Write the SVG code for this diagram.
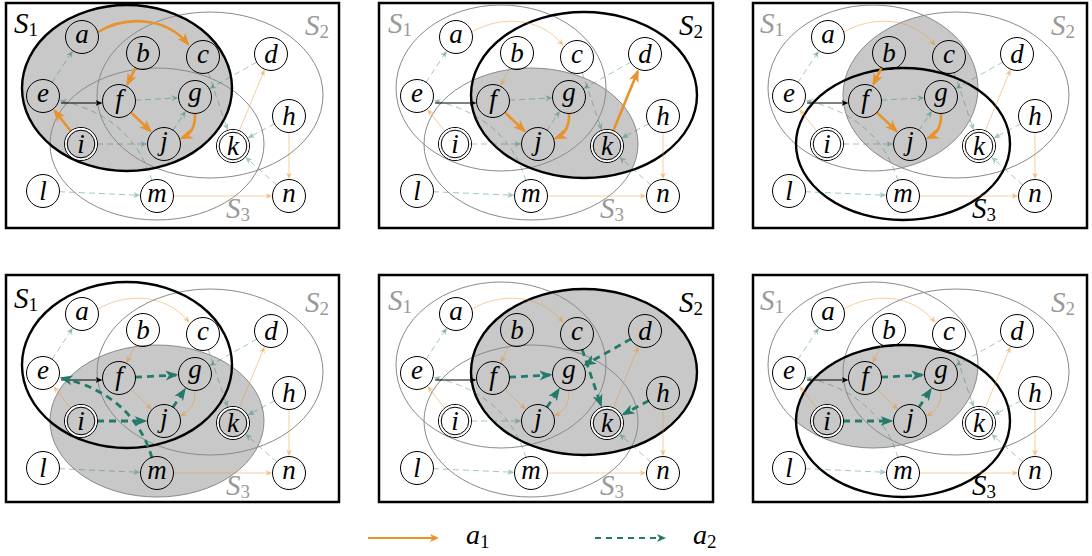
<svg xmlns="http://www.w3.org/2000/svg" width="1092" height="556" viewBox="0 0 1092 556">
<style>
.frame{fill:none;stroke:#000;stroke-width:2.5}
.sf{fill:none;stroke:#8a8a8a;stroke-width:1}
.sb{fill:none;stroke:#000;stroke-width:2.4}
.fill{fill:#c8c8c8;stroke:none}
.lab{font-family:"Liberation Serif",serif;font-style:italic;font-size:29px;fill:#000}
.lab.g{fill:#999}
.sub{font-style:normal;font-size:19px}
.node circle{fill:none;stroke:#000;stroke-width:1}
.node circle.gap{stroke:#fff;stroke-width:1.6}
.node text{font-family:"Liberation Serif",serif;font-style:italic;font-size:27px;text-anchor:middle;fill:#000}
.ob{fill:none;stroke:#E8922C;stroke-width:2.6;marker-end:url(#mob)}
.of{fill:none;stroke:#E8922C;stroke-opacity:.45;stroke-width:1;marker-end:url(#mof)}
.tb{fill:none;stroke:#237A6B;stroke-width:2.8;stroke-dasharray:7 5;marker-end:url(#mtb)}
.tf{fill:none;stroke:#237A6B;stroke-opacity:.42;stroke-width:1;stroke-dasharray:6 4;marker-end:url(#mtf)}
.bk{fill:none;stroke:#000;stroke-width:1;marker-end:url(#mbk)}
.leg{font-family:"Liberation Serif",serif;font-style:italic;font-size:28px;fill:#000}
</style>
<defs>
<marker id="mob" markerUnits="userSpaceOnUse" orient="auto" markerWidth="13" markerHeight="10" refX="10.5" refY="5"><path d="M0,0 L13,5 L0,10 L3.5,5 z" fill="#E8922C"/></marker>
<marker id="mof" markerUnits="userSpaceOnUse" orient="auto" markerWidth="7" markerHeight="6" refX="4.5" refY="3"><path d="M0,0 L7,3 L0,6 L1.8,3 z" fill="#E8922C" fill-opacity=".45"/></marker>
<marker id="mtb" markerUnits="userSpaceOnUse" orient="auto" markerWidth="13" markerHeight="10" refX="10.5" refY="5"><path d="M0,0 L13,5 L0,10 L3.5,5 z" fill="#237A6B"/></marker>
<marker id="mtf" markerUnits="userSpaceOnUse" orient="auto" markerWidth="7" markerHeight="6" refX="4.5" refY="3"><path d="M0,0 L7,3 L0,6 L1.8,3 z" fill="#237A6B" fill-opacity=".42"/></marker>
<marker id="mbk" markerUnits="userSpaceOnUse" orient="auto" markerWidth="7" markerHeight="6" refX="4.5" refY="3"><path d="M0,0 L7,3 L0,6 L1.8,3 z" fill="#000"/></marker>
<marker id="mlo" markerUnits="userSpaceOnUse" orient="auto" markerWidth="9" markerHeight="8" refX="6" refY="4"><path d="M0,0 L9,4 L0,8 L2.4,4 z" fill="#E8922C"/></marker>
<marker id="mlt" markerUnits="userSpaceOnUse" orient="auto" markerWidth="9" markerHeight="8" refX="6" refY="4"><path d="M0,0 L9,4 L0,8 L2.4,4 z" fill="#237A6B"/></marker>
<clipPath id="cS1"><ellipse cx="127" cy="88" rx="105" ry="83"/></clipPath>
<clipPath id="cS2"><ellipse cx="210" cy="95" rx="113" ry="83"/></clipPath>
<clipPath id="cS3"><ellipse cx="157" cy="144" rx="107" ry="76"/></clipPath>
</defs>
<rect width="1092" height="556" fill="#fff"/>
<g id="frames">
<rect class="frame" x="6" y="3" width="333" height="225"/>
<rect class="frame" x="379" y="3" width="334" height="225"/>
<rect class="frame" x="753" y="3" width="334" height="225"/>
<rect class="frame" x="6" y="275" width="333" height="227"/>
<rect class="frame" x="379" y="275" width="334" height="227"/>
<rect class="frame" x="753" y="275" width="334" height="227"/>
</g>

<!-- Panel 1 -->
<g id="panel-1" transform="translate(0,0)">
<ellipse class="fill" cx="127" cy="88" rx="105" ry="83"/>
<ellipse class="sf" cx="210" cy="95" rx="113" ry="83"/>
<ellipse class="sf" cx="157" cy="144" rx="107" ry="76"/>
<ellipse class="sb" cx="127" cy="88" rx="105" ry="83"/>
<text class="lab" x="14" y="33">S<tspan class="sub" dy="3">1</tspan></text>
<text class="lab g" x="305" y="35">S<tspan class="sub" dy="3">2</tspan></text>
<text class="lab g" x="226" y="218">S<tspan class="sub" dy="3">3</tspan></text>
<g id="p1-connectors">
<path class="of" d="M239.1,131.2 L263.7,71.6"/>
<path class="of" d="M289,132 L289,177"/>
<path class="of" d="M173,196 L270,196"/>
<path class="tf" d="M51.8,82.7 L71.5,52.8"/>
<path class="tf" d="M135,100.2 L176,98"/>
<path class="tf" d="M172.8,130.6 L184.5,112.9"/>
<path class="tf" d="M97,144 L145,144"/>
<path class="tf" d="M152,181 C140,140 110,112 62,101"/>
<path class="tf" d="M59,191.7 L138,195.2"/>
<path class="tf" d="M257.1,61.9 L211.5,87.6"/>
<path class="tf" d="M208.1,72.2 L226.9,128"/>
<path class="tf" d="M274.9,123.6 L249.8,137"/>
<path class="tf" d="M277.1,185.3 L247.2,158.7"/>
<path class="bk" d="M61,103 L100,103"/>
<path class="ob" d="M98,32 C125,16 165,16 188,44"/>
<path class="ob" d="M135.8,67.3 L127.5,84"/>
<path class="ob" d="M130.6,112.1 L150.3,130.9"/>
<path class="ob" d="M195,113 Q196,132 182,138"/>
<path class="ob" d="M71.1,131.5 L54.8,110.9"/>
</g>
<g id="p1-a" class="node"><circle cx="82" cy="37" r="16.5"/><text x="82" y="43">a</text></g>
<g id="p1-b" class="node"><circle cx="143" cy="53" r="16.5"/><text x="143" y="62">b</text></g>
<g id="p1-c" class="node"><circle cx="203" cy="57" r="16.5"/><text x="203" y="63">c</text></g>
<g id="p1-d" class="node"><circle cx="271" cy="54" r="16.5"/><text x="271" y="63">d</text></g>
<g id="p1-e" class="node"><circle cx="43" cy="96" r="16.5"/><text x="43" y="102">e</text></g>
<g id="p1-f" class="node"><circle cx="119" cy="101" r="16.5"/><text x="119" y="107.5">f</text></g>
<g id="p1-g" class="node"><circle cx="195" cy="97" r="16.5"/><text x="195" y="100.5">g</text></g>
<g id="p1-h" class="node"><circle cx="289" cy="116" r="16.5"/><text x="289" y="125">h</text></g>
<g id="p1-i" class="node"><circle cx="81" cy="144" r="16.5"/><circle class="gap" cx="81" cy="144" r="15.1"/><circle cx="81" cy="144" r="13.8"/><text x="81" y="152.5">i</text></g>
<g id="p1-j" class="node"><circle cx="164" cy="144" r="16.5"/><text x="164" y="149.5">j</text></g>
<g id="p1-k" class="node"><circle cx="233" cy="146" r="16.5"/><circle class="gap" cx="233" cy="146" r="15.1"/><circle cx="233" cy="146" r="13.8"/><text x="233" y="155">k</text></g>
<g id="p1-l" class="node"><circle cx="43" cy="191" r="16.5"/><text x="43" y="200">l</text></g>
<g id="p1-m" class="node"><circle cx="157" cy="196" r="16.5"/><text x="157" y="202">m</text></g>
<g id="p1-n" class="node"><circle cx="289" cy="196" r="16.5"/><text x="289" y="202">n</text></g>
</g>

<!-- Panel 2 -->
<g id="panel-2" transform="translate(374,0)">
<ellipse class="fill" cx="210" cy="95" rx="113" ry="83" clip-path="url(#cS3)"/>
<ellipse class="sf" cx="127" cy="88" rx="105" ry="83"/>
<ellipse class="sf" cx="157" cy="144" rx="107" ry="76"/>
<ellipse class="sb" cx="210" cy="95" rx="113" ry="83"/>
<text class="lab g" x="14" y="33">S<tspan class="sub" dy="3">1</tspan></text>
<text class="lab" x="305" y="35">S<tspan class="sub" dy="3">2</tspan></text>
<text class="lab g" x="226" y="218">S<tspan class="sub" dy="3">3</tspan></text>
<g id="p2-connectors">
<path class="of" d="M98,32 C125,16 165,16 188,44"/>
<path class="of" d="M135.8,67.3 L127.5,84"/>
<path class="of" d="M71.1,131.5 L54.8,110.9"/>
<path class="of" d="M289,132 L289,177"/>
<path class="of" d="M173,196 L270,196"/>
<path class="tf" d="M51.8,82.7 L71.5,52.8"/>
<path class="tf" d="M135,100.2 L176,98"/>
<path class="tf" d="M172.8,130.6 L184.5,112.9"/>
<path class="tf" d="M97,144 L145,144"/>
<path class="tf" d="M152,181 C140,140 110,112 62,101"/>
<path class="tf" d="M59,191.7 L138,195.2"/>
<path class="tf" d="M257.1,61.9 L211.5,87.6"/>
<path class="tf" d="M208.1,72.2 L226.9,128"/>
<path class="tf" d="M274.9,123.6 L249.8,137"/>
<path class="tf" d="M277.1,185.3 L247.2,158.7"/>
<path class="bk" d="M61,103 L100,103"/>
<path class="ob" d="M130.6,112.1 L150.3,130.9"/>
<path class="ob" d="M195,113 Q196,132 182,138"/>
<path class="ob" d="M239.1,131.2 L263.7,71.6"/>
</g>
<g id="p2-a" class="node"><circle cx="82" cy="37" r="16.5"/><text x="82" y="43">a</text></g>
<g id="p2-b" class="node"><circle cx="143" cy="53" r="16.5"/><text x="143" y="62">b</text></g>
<g id="p2-c" class="node"><circle cx="203" cy="57" r="16.5"/><text x="203" y="63">c</text></g>
<g id="p2-d" class="node"><circle cx="271" cy="54" r="16.5"/><text x="271" y="63">d</text></g>
<g id="p2-e" class="node"><circle cx="43" cy="96" r="16.5"/><text x="43" y="102">e</text></g>
<g id="p2-f" class="node"><circle cx="119" cy="101" r="16.5"/><text x="119" y="107.5">f</text></g>
<g id="p2-g" class="node"><circle cx="195" cy="97" r="16.5"/><text x="195" y="100.5">g</text></g>
<g id="p2-h" class="node"><circle cx="289" cy="116" r="16.5"/><text x="289" y="125">h</text></g>
<g id="p2-i" class="node"><circle cx="81" cy="144" r="16.5"/><circle class="gap" cx="81" cy="144" r="15.1"/><circle cx="81" cy="144" r="13.8"/><text x="81" y="152.5">i</text></g>
<g id="p2-j" class="node"><circle cx="164" cy="144" r="16.5"/><text x="164" y="149.5">j</text></g>
<g id="p2-k" class="node"><circle cx="233" cy="146" r="16.5"/><circle class="gap" cx="233" cy="146" r="15.1"/><circle cx="233" cy="146" r="13.8"/><text x="233" y="155">k</text></g>
<g id="p2-l" class="node"><circle cx="43" cy="191" r="16.5"/><text x="43" y="200">l</text></g>
<g id="p2-m" class="node"><circle cx="157" cy="196" r="16.5"/><text x="157" y="202">m</text></g>
<g id="p2-n" class="node"><circle cx="289" cy="196" r="16.5"/><text x="289" y="202">n</text></g>
</g>

<!-- Panel 3 -->
<g id="panel-3" transform="translate(746,0)">
<ellipse class="fill" cx="127" cy="88" rx="105" ry="83" clip-path="url(#cS2)"/>
<ellipse class="sf" cx="127" cy="88" rx="105" ry="83"/>
<ellipse class="sf" cx="210" cy="95" rx="113" ry="83"/>
<ellipse class="sb" cx="157" cy="144" rx="107" ry="76"/>
<text class="lab g" x="14" y="33">S<tspan class="sub" dy="3">1</tspan></text>
<text class="lab g" x="305" y="35">S<tspan class="sub" dy="3">2</tspan></text>
<text class="lab" x="226" y="218">S<tspan class="sub" dy="3">3</tspan></text>
<g id="p3-connectors">
<path class="of" d="M98,32 C125,16 165,16 188,44"/>
<path class="of" d="M71.1,131.5 L54.8,110.9"/>
<path class="of" d="M239.1,131.2 L263.7,71.6"/>
<path class="of" d="M289,132 L289,177"/>
<path class="of" d="M173,196 L270,196"/>
<path class="tf" d="M51.8,82.7 L71.5,52.8"/>
<path class="tf" d="M135,100.2 L176,98"/>
<path class="tf" d="M172.8,130.6 L184.5,112.9"/>
<path class="tf" d="M97,144 L145,144"/>
<path class="tf" d="M152,181 C140,140 110,112 62,101"/>
<path class="tf" d="M59,191.7 L138,195.2"/>
<path class="tf" d="M257.1,61.9 L211.5,87.6"/>
<path class="tf" d="M208.1,72.2 L226.9,128"/>
<path class="tf" d="M274.9,123.6 L249.8,137"/>
<path class="tf" d="M277.1,185.3 L247.2,158.7"/>
<path class="bk" d="M61,103 L100,103"/>
<path class="ob" d="M135.8,67.3 L127.5,84"/>
<path class="ob" d="M130.6,112.1 L150.3,130.9"/>
<path class="ob" d="M195,113 Q196,132 182,138"/>
</g>
<g id="p3-a" class="node"><circle cx="82" cy="37" r="16.5"/><text x="82" y="43">a</text></g>
<g id="p3-b" class="node"><circle cx="143" cy="53" r="16.5"/><text x="143" y="62">b</text></g>
<g id="p3-c" class="node"><circle cx="203" cy="57" r="16.5"/><text x="203" y="63">c</text></g>
<g id="p3-d" class="node"><circle cx="271" cy="54" r="16.5"/><text x="271" y="63">d</text></g>
<g id="p3-e" class="node"><circle cx="43" cy="96" r="16.5"/><text x="43" y="102">e</text></g>
<g id="p3-f" class="node"><circle cx="119" cy="101" r="16.5"/><text x="119" y="107.5">f</text></g>
<g id="p3-g" class="node"><circle cx="195" cy="97" r="16.5"/><text x="195" y="100.5">g</text></g>
<g id="p3-h" class="node"><circle cx="289" cy="116" r="16.5"/><text x="289" y="125">h</text></g>
<g id="p3-i" class="node"><circle cx="81" cy="144" r="16.5"/><circle class="gap" cx="81" cy="144" r="15.1"/><circle cx="81" cy="144" r="13.8"/><text x="81" y="152.5">i</text></g>
<g id="p3-j" class="node"><circle cx="164" cy="144" r="16.5"/><text x="164" y="149.5">j</text></g>
<g id="p3-k" class="node"><circle cx="233" cy="146" r="16.5"/><circle class="gap" cx="233" cy="146" r="15.1"/><circle cx="233" cy="146" r="13.8"/><text x="233" y="155">k</text></g>
<g id="p3-l" class="node"><circle cx="43" cy="191" r="16.5"/><text x="43" y="200">l</text></g>
<g id="p3-m" class="node"><circle cx="157" cy="196" r="16.5"/><text x="157" y="202">m</text></g>
<g id="p3-n" class="node"><circle cx="289" cy="196" r="16.5"/><text x="289" y="202">n</text></g>
</g>

<!-- Panel 4 -->
<g id="panel-4" transform="translate(0,277)">
<ellipse class="fill" cx="157" cy="144" rx="107" ry="76"/>
<ellipse class="sf" cx="210" cy="95" rx="113" ry="83"/>
<ellipse class="sf" cx="157" cy="144" rx="107" ry="76"/>
<ellipse class="sb" cx="127" cy="88" rx="105" ry="83"/>
<text class="lab" x="14" y="31">S<tspan class="sub" dy="3">1</tspan></text>
<text class="lab g" x="305" y="35">S<tspan class="sub" dy="3">2</tspan></text>
<text class="lab g" x="226" y="218">S<tspan class="sub" dy="3">3</tspan></text>
<g id="p4-connectors">
<path class="of" d="M98,32 C125,16 165,16 188,44"/>
<path class="of" d="M135.8,67.3 L127.5,84"/>
<path class="of" d="M130.6,112.1 L150.3,130.9"/>
<path class="of" d="M195,113 Q196,132 182,138"/>
<path class="of" d="M71.1,131.5 L54.8,110.9"/>
<path class="of" d="M239.1,131.2 L263.7,71.6"/>
<path class="of" d="M289,132 L289,177"/>
<path class="of" d="M173,196 L270,196"/>
<path class="tf" d="M51.8,82.7 L71.5,52.8"/>
<path class="tf" d="M59,191.7 L138,195.2"/>
<path class="tf" d="M257.1,61.9 L211.5,87.6"/>
<path class="tf" d="M208.1,72.2 L226.9,128"/>
<path class="tf" d="M274.9,123.6 L249.8,137"/>
<path class="tf" d="M277.1,185.3 L247.2,158.7"/>
<path class="bk" d="M61,103 L100,103"/>
<path class="tb" d="M135,100.2 L176,98"/>
<path class="tb" d="M172.8,130.6 L184.5,112.9"/>
<path class="tb" d="M97,144 L145,144"/>
<path class="tb" d="M152,181 C140,140 110,112 62,101"/>
</g>
<g id="p4-a" class="node"><circle cx="82" cy="37" r="16.5"/><text x="82" y="43">a</text></g>
<g id="p4-b" class="node"><circle cx="143" cy="53" r="16.5"/><text x="143" y="62">b</text></g>
<g id="p4-c" class="node"><circle cx="203" cy="57" r="16.5"/><text x="203" y="63">c</text></g>
<g id="p4-d" class="node"><circle cx="271" cy="54" r="16.5"/><text x="271" y="63">d</text></g>
<g id="p4-e" class="node"><circle cx="43" cy="96" r="16.5"/><text x="43" y="102">e</text></g>
<g id="p4-f" class="node"><circle cx="119" cy="101" r="16.5"/><text x="119" y="107.5">f</text></g>
<g id="p4-g" class="node"><circle cx="195" cy="97" r="16.5"/><text x="195" y="100.5">g</text></g>
<g id="p4-h" class="node"><circle cx="289" cy="116" r="16.5"/><text x="289" y="125">h</text></g>
<g id="p4-i" class="node"><circle cx="81" cy="144" r="16.5"/><circle class="gap" cx="81" cy="144" r="15.1"/><circle cx="81" cy="144" r="13.8"/><text x="81" y="152.5">i</text></g>
<g id="p4-j" class="node"><circle cx="164" cy="144" r="16.5"/><text x="164" y="149.5">j</text></g>
<g id="p4-k" class="node"><circle cx="233" cy="146" r="16.5"/><circle class="gap" cx="233" cy="146" r="15.1"/><circle cx="233" cy="146" r="13.8"/><text x="233" y="155">k</text></g>
<g id="p4-l" class="node"><circle cx="43" cy="191" r="16.5"/><text x="43" y="200">l</text></g>
<g id="p4-m" class="node"><circle cx="157" cy="196" r="16.5"/><text x="157" y="202">m</text></g>
<g id="p4-n" class="node"><circle cx="289" cy="196" r="16.5"/><text x="289" y="202">n</text></g>
</g>

<!-- Panel 5 -->
<g id="panel-5" transform="translate(374,277)">
<ellipse class="fill" cx="210" cy="95" rx="113" ry="83"/>
<ellipse class="sf" cx="127" cy="88" rx="105" ry="83"/>
<ellipse class="sf" cx="157" cy="144" rx="107" ry="76"/>
<ellipse class="sb" cx="210" cy="95" rx="113" ry="83"/>
<text class="lab g" x="14" y="33">S<tspan class="sub" dy="3">1</tspan></text>
<text class="lab" x="305" y="35">S<tspan class="sub" dy="3">2</tspan></text>
<text class="lab g" x="226" y="218">S<tspan class="sub" dy="3">3</tspan></text>
<g id="p5-connectors">
<path class="of" d="M98,32 C125,16 165,16 188,44"/>
<path class="of" d="M135.8,67.3 L127.5,84"/>
<path class="of" d="M130.6,112.1 L150.3,130.9"/>
<path class="of" d="M195,113 Q196,132 182,138"/>
<path class="of" d="M71.1,131.5 L54.8,110.9"/>
<path class="of" d="M239.1,131.2 L263.7,71.6"/>
<path class="of" d="M289,132 L289,177"/>
<path class="of" d="M173,196 L270,196"/>
<path class="tf" d="M51.8,82.7 L71.5,52.8"/>
<path class="tf" d="M97,144 L145,144"/>
<path class="tf" d="M152,181 C140,140 110,112 62,101"/>
<path class="tf" d="M59,191.7 L138,195.2"/>
<path class="tf" d="M277.1,185.3 L247.2,158.7"/>
<path class="bk" d="M61,103 L100,103"/>
<path class="tb" d="M135,100.2 L176,98"/>
<path class="tb" d="M172.8,130.6 L184.5,112.9"/>
<path class="tb" d="M257.1,61.9 L211.5,87.6"/>
<path class="tb" d="M208.1,72.2 L226.9,128"/>
<path class="tb" d="M274.9,123.6 L249.8,137"/>
</g>
<g id="p5-a" class="node"><circle cx="82" cy="37" r="16.5"/><text x="82" y="43">a</text></g>
<g id="p5-b" class="node"><circle cx="143" cy="53" r="16.5"/><text x="143" y="62">b</text></g>
<g id="p5-c" class="node"><circle cx="203" cy="57" r="16.5"/><text x="203" y="63">c</text></g>
<g id="p5-d" class="node"><circle cx="271" cy="54" r="16.5"/><text x="271" y="63">d</text></g>
<g id="p5-e" class="node"><circle cx="43" cy="96" r="16.5"/><text x="43" y="102">e</text></g>
<g id="p5-f" class="node"><circle cx="119" cy="101" r="16.5"/><text x="119" y="107.5">f</text></g>
<g id="p5-g" class="node"><circle cx="195" cy="97" r="16.5"/><text x="195" y="100.5">g</text></g>
<g id="p5-h" class="node"><circle cx="289" cy="116" r="16.5"/><text x="289" y="125">h</text></g>
<g id="p5-i" class="node"><circle cx="81" cy="144" r="16.5"/><circle class="gap" cx="81" cy="144" r="15.1"/><circle cx="81" cy="144" r="13.8"/><text x="81" y="152.5">i</text></g>
<g id="p5-j" class="node"><circle cx="164" cy="144" r="16.5"/><text x="164" y="149.5">j</text></g>
<g id="p5-k" class="node"><circle cx="233" cy="146" r="16.5"/><circle class="gap" cx="233" cy="146" r="15.1"/><circle cx="233" cy="146" r="13.8"/><text x="233" y="155">k</text></g>
<g id="p5-l" class="node"><circle cx="43" cy="191" r="16.5"/><text x="43" y="200">l</text></g>
<g id="p5-m" class="node"><circle cx="157" cy="196" r="16.5"/><text x="157" y="202">m</text></g>
<g id="p5-n" class="node"><circle cx="289" cy="196" r="16.5"/><text x="289" y="202">n</text></g>
</g>

<!-- Panel 6 -->
<g id="panel-6" transform="translate(746,277)">
<ellipse class="fill" cx="127" cy="88" rx="105" ry="83" clip-path="url(#cS3)"/>
<ellipse class="sf" cx="127" cy="88" rx="105" ry="83"/>
<ellipse class="sf" cx="210" cy="95" rx="113" ry="83"/>
<ellipse class="sb" cx="157" cy="144" rx="107" ry="76"/>
<text class="lab g" x="14" y="33">S<tspan class="sub" dy="3">1</tspan></text>
<text class="lab g" x="305" y="35">S<tspan class="sub" dy="3">2</tspan></text>
<text class="lab" x="226" y="218">S<tspan class="sub" dy="3">3</tspan></text>
<g id="p6-connectors">
<path class="of" d="M98,32 C125,16 165,16 188,44"/>
<path class="of" d="M135.8,67.3 L127.5,84"/>
<path class="of" d="M130.6,112.1 L150.3,130.9"/>
<path class="of" d="M195,113 Q196,132 182,138"/>
<path class="of" d="M71.1,131.5 L54.8,110.9"/>
<path class="of" d="M239.1,131.2 L263.7,71.6"/>
<path class="of" d="M289,132 L289,177"/>
<path class="of" d="M173,196 L270,196"/>
<path class="tf" d="M51.8,82.7 L71.5,52.8"/>
<path class="tf" d="M152,181 C140,140 110,112 62,101"/>
<path class="tf" d="M59,191.7 L138,195.2"/>
<path class="tf" d="M257.1,61.9 L211.5,87.6"/>
<path class="tf" d="M208.1,72.2 L226.9,128"/>
<path class="tf" d="M274.9,123.6 L249.8,137"/>
<path class="tf" d="M277.1,185.3 L247.2,158.7"/>
<path class="bk" d="M61,103 L100,103"/>
<path class="tb" d="M135,100.2 L176,98"/>
<path class="tb" d="M172.8,130.6 L184.5,112.9"/>
<path class="tb" d="M97,144 L145,144"/>
</g>
<g id="p6-a" class="node"><circle cx="82" cy="37" r="16.5"/><text x="82" y="43">a</text></g>
<g id="p6-b" class="node"><circle cx="143" cy="53" r="16.5"/><text x="143" y="62">b</text></g>
<g id="p6-c" class="node"><circle cx="203" cy="57" r="16.5"/><text x="203" y="63">c</text></g>
<g id="p6-d" class="node"><circle cx="271" cy="54" r="16.5"/><text x="271" y="63">d</text></g>
<g id="p6-e" class="node"><circle cx="43" cy="96" r="16.5"/><text x="43" y="102">e</text></g>
<g id="p6-f" class="node"><circle cx="119" cy="101" r="16.5"/><text x="119" y="107.5">f</text></g>
<g id="p6-g" class="node"><circle cx="195" cy="97" r="16.5"/><text x="195" y="100.5">g</text></g>
<g id="p6-h" class="node"><circle cx="289" cy="116" r="16.5"/><text x="289" y="125">h</text></g>
<g id="p6-i" class="node"><circle cx="81" cy="144" r="16.5"/><circle class="gap" cx="81" cy="144" r="15.1"/><circle cx="81" cy="144" r="13.8"/><text x="81" y="152.5">i</text></g>
<g id="p6-j" class="node"><circle cx="164" cy="144" r="16.5"/><text x="164" y="149.5">j</text></g>
<g id="p6-k" class="node"><circle cx="233" cy="146" r="16.5"/><circle class="gap" cx="233" cy="146" r="15.1"/><circle cx="233" cy="146" r="13.8"/><text x="233" y="155">k</text></g>
<g id="p6-l" class="node"><circle cx="43" cy="191" r="16.5"/><text x="43" y="200">l</text></g>
<g id="p6-m" class="node"><circle cx="157" cy="196" r="16.5"/><text x="157" y="202">m</text></g>
<g id="p6-n" class="node"><circle cx="289" cy="196" r="16.5"/><text x="289" y="202">n</text></g>
</g>

<!-- Legend -->
<g id="legend">
<path d="M368,538 L436,538" fill="none" stroke="#E8922C" stroke-width="2" marker-end="url(#mlo)"/>
<text class="leg" x="466" y="544">a<tspan class="sub" dy="4">1</tspan></text>
<path d="M595,538 L663,538" fill="none" stroke="#237A6B" stroke-width="2" stroke-dasharray="6 5" marker-end="url(#mlt)"/>
<text class="leg" x="693" y="544">a<tspan class="sub" dy="4">2</tspan></text>
</g>
</svg>
